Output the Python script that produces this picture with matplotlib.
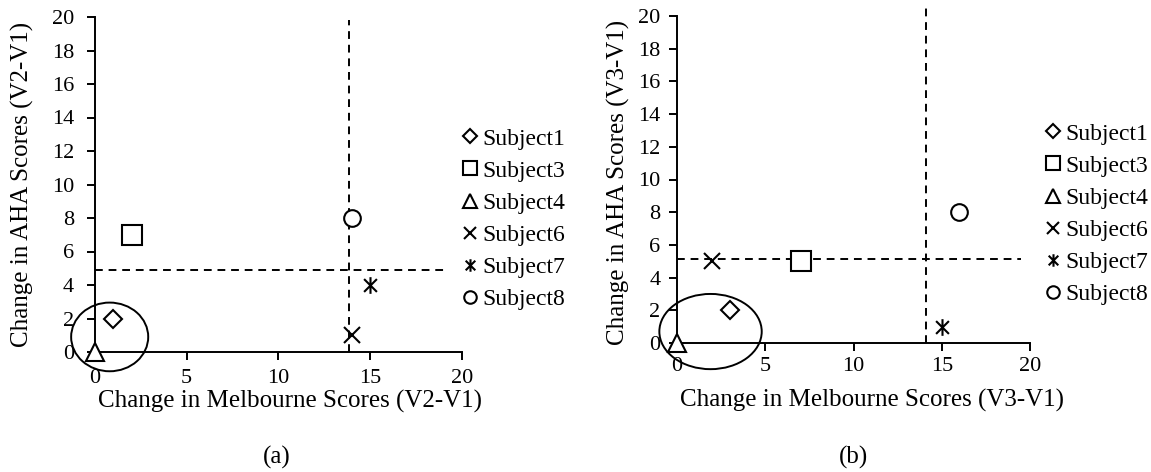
import matplotlib
matplotlib.use("Agg")
import matplotlib.pyplot as plt
from matplotlib.patches import Ellipse
from matplotlib.path import Path
from matplotlib.lines import Line2D

plt.rcParams['font.family'] = ['Liberation Serif', 'DejaVu Serif']

subjects = ["Subject1", "Subject3", "Subject4", "Subject6", "Subject7", "Subject8"]
# panel (a): V2-V1
mel_a = [1, 2, 0, 14, 15, 14]
aha_a = [2, 7, 0, 1, 4, 8]
# panel (b): V3-V1
mel_b = [3, 7, 0, 2, 15, 16]
aha_b = [2, 5, 0, 5, 1, 8]

# threshold lines
vline_a, hline_a = 13.85, 4.9
vline_b, hline_b = 14.1, 5.15

ticks_x = [0, 5, 10, 15, 20]
ticks_y = [0, 2, 4, 6, 8, 10, 12, 14, 16, 18, 20]

star = Path([(-1, -1), (1, 1), (-1, 1), (1, -1), (0, -1.3), (0, 1.3)],
            [Path.MOVETO, Path.LINETO, Path.MOVETO, Path.LINETO, Path.MOVETO, Path.LINETO])
markers = ['D', 's', '^', 'x', star, 'o']
msizes = [9, 14, 13, 12, 12, 12]
lmsizes = [7.5, 10, 9.5, 9, 9, 9]

fig = plt.figure(figsize=(11.51, 4.72), dpi=100)

def panel(rect, xs, ys, vx, hy, vtop, hright, ell, xlabel, ylabel, xl_pos, yl_pos,
          xpad, ypad, leg_x, leg_y, sub, sub_x):
    ax = fig.add_axes(rect)
    for i, s in enumerate(subjects):
        ax.plot(xs[i], ys[i], linestyle='none', marker=markers[i], ms=msizes[i],
                mfc='white', mec='black', mew=1.5, clip_on=False, zorder=5)
    ax.plot([vx, vx], [0, vtop], ls=(0, (4, 3)), color='black', lw=1.4, clip_on=False)
    ax.plot([0, hright], [hy, hy], ls=(0, (4, 3)), color='black', lw=1.4, clip_on=False)
    e = Ellipse(ell[:2], ell[2], ell[3], fill=False, ec='black', lw=1.4, clip_on=False, zorder=4)
    ax.add_patch(e)
    ax.set_xlim(0, 20)
    ax.set_ylim(0, 20)
    ax.set_xticks(ticks_x)
    ax.set_yticks(ticks_y)
    ax.spines['top'].set_visible(False)
    ax.spines['right'].set_visible(False)
    for sp in ('left', 'bottom'):
        ax.spines[sp].set_linewidth(1.4)
    ax.tick_params(direction='out', length=6, width=1.4, labelsize=16)
    ax.tick_params(axis='x', pad=xpad)
    ax.tick_params(axis='y', pad=ypad)
    ax.set_xlabel(xlabel, fontsize=18)
    ax.set_ylabel(ylabel, fontsize=18)
    ax.xaxis.set_label_coords(*xl_pos)
    ax.xaxis.label.set_va('center')
    ax.yaxis.set_label_coords(*yl_pos)
    ax.yaxis.label.set_va('center')
    handles = [Line2D([], [], linestyle='none', marker=markers[i], ms=lmsizes[i],
                      mfc='white', mec='black', mew=1.5) for i in range(len(subjects))]
    fig.legend(handles, subjects, loc='upper left', bbox_to_anchor=(leg_x, leg_y),
               frameon=False, fontsize=17, handlelength=0.6, handletextpad=0.2,
               labelspacing=0.45, borderaxespad=0, borderpad=0)
    fig.text(sub_x, 1 - 457/472, sub, fontsize=18, ha='center', va='center')
    return ax

panel([95/1151, 1 - 352/472, 367/1151, 335/472], mel_a, aha_a, vline_a, hline_a, 19.8, 19.0,
      (0.8, 0.9, 4.2, 4.1), "Change in Melbourne Scores (V2-V1)", "Change in AHA Scores (V2-V1)",
      (0.531, -0.149), (-0.199, 0.5), 6, 9,
      463/1151, 1 - 128/472, "(a)", 277/1151)
panel([677/1151, 1 - 343/472, 353/1151, 327/472], mel_b, aha_b, vline_b, hline_b, 20.5, 19.5,
      (1.9, 0.7, 5.8, 4.6), "Change in Melbourne Scores (V3-V1)", "Change in AHA Scores (V3-V1)",
      (0.552, -0.175), (-0.167, 0.49), 4, 6,
      1046/1151, 1 - 123/472, "(b)", 853/1151)

fig.savefig("out.png", dpi=100)
